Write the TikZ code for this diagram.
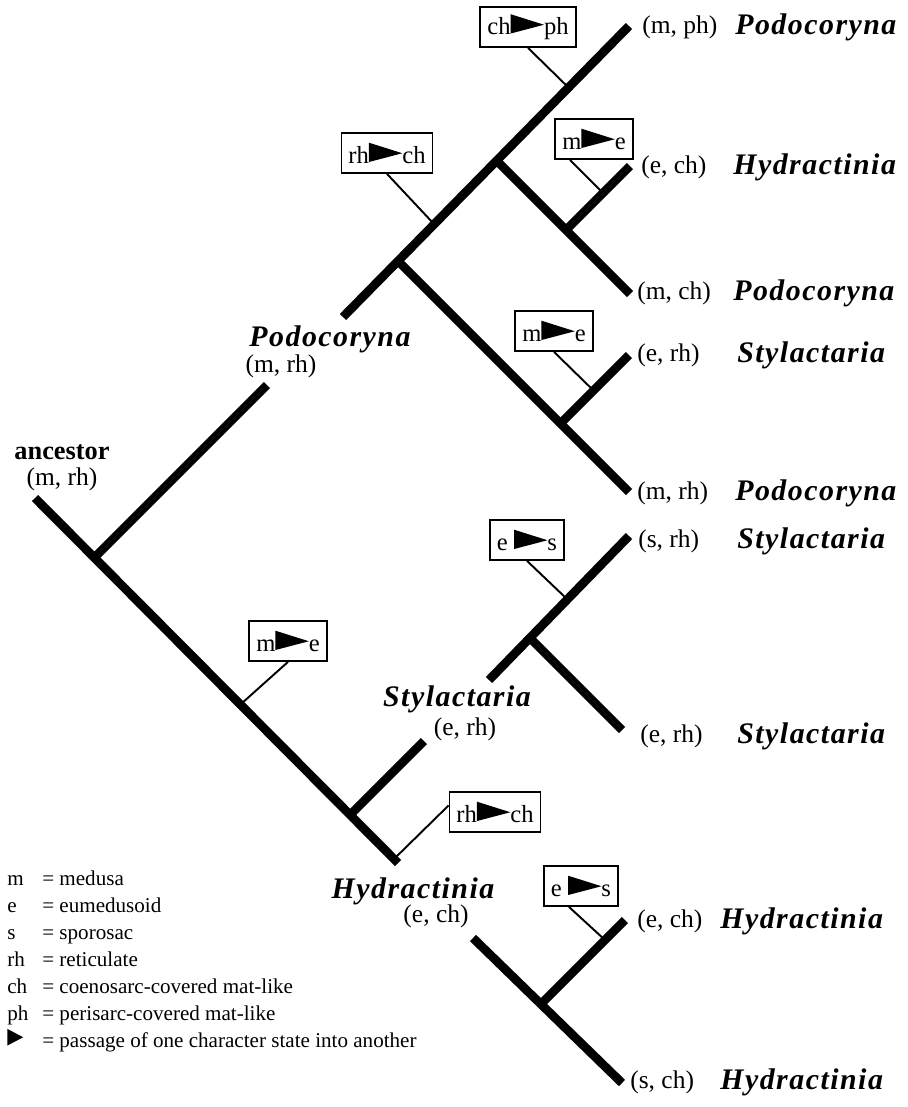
\documentclass[tikz,border=0pt]{standalone}
\usepackage{fontspec}
\setmainfont{Liberation Serif}
\newfontfamily\taxfont[LetterSpace=5]{Liberation Serif}
\usetikzlibrary{positioning}

% filled wedge for a change of character state
\newcommand{\pass}{\tikz[baseline=-0.6pt]\fill (0,0) -- (0,11pt) -- (19pt,5pt) -- cycle;}
\newcommand{\legpass}{\tikz[baseline=-1pt]\fill (0,0) -- (0,9.5pt) -- (9pt,4.75pt) -- cycle;}

\tikzset{
  branch/.style={line width=5pt},
  tick/.style={line width=1.1pt},
  changebox/.style={draw, fill=white, line width=1pt, inner xsep=4pt, inner ysep=0pt,
    minimum height=0.8cm, font=\fontsize{14}{16}\selectfont},
  state/.style={inner sep=0pt, text height=9.5pt, text depth=3pt, font=\fontsize{14.5}{16}\selectfont},
  taxon/.style={inner sep=0pt, text height=11pt, text depth=3.5pt,
    font=\fontsize{17}{19}\selectfont\taxfont\bfseries\itshape},
}

\begin{document}
\begin{tikzpicture}[x=0.02cm, y=-0.02cm]
            \useasboundingbox (0,0) rectangle (908,1107);

            % tree: tips and branching points
            \coordinate (anc) at (35,498);
            \coordinate (n0) at (94.5,557.5);
            \coordinate (pod) at (267,385);
            \coordinate (n5) at (351,814);
            \coordinate (sty) at (424,741);
            \coordinate (tend) at (398,863);
            \coordinate (us) at (343,317);
            \coordinate (n1) at (397.5,260.5);
            \coordinate (n3) at (497,161);
            \coordinate (n4) at (566,230);
            \coordinate (n2) at (560.5,423.5);
            \coordinate (t1) at (629,26);
            \coordinate (t2) at (630,166);
            \coordinate (t3) at (630,294);
            \coordinate (t4) at (629,355);
            \coordinate (t5) at (629,492);
            \coordinate (ss) at (489,680);
            \coordinate (n6) at (529.5,637.5);
            \coordinate (t6) at (629,536);
            \coordinate (t7) at (622,730);
            \coordinate (hs) at (473,938);
            \coordinate (n7) at (541.5,1003.5);
            \coordinate (t8) at (625,920);
            \coordinate (t9) at (622,1083);

            \draw[branch] (anc) -- (tend);
            \draw[branch] (n0) -- (pod);
            \draw[branch] (n5) -- (sty);
            \draw[branch] (us) -- (t1);
            \draw[branch] (n1) -- (t5);
            \draw[branch] (n3) -- (t3);
            \draw[branch] (n4) -- (t2);
            \draw[branch] (n2) -- (t4);
            \draw[branch] (ss) -- (t6);
            \draw[branch] (n6) -- (t7);
            \draw[branch] (hs) -- (t9);
            \draw[branch] (n7) -- (t8);

            % character state changes
            \node[changebox] (c1) at (528,27) {ch\pass ph};
            \node[changebox] (c2) at (387,153) {rh\pass ch};
            \node[changebox] (c3) at (594,139) {m\pass e};
            \node[changebox] (c4) at (554,331) {m\pass e};
            \node[changebox] (c5) at (288,641) {m\pass e};
            \node[changebox] (c6) at (495,812) {rh\pass ch};
            \node[changebox] (c7) at (527,540) {e \pass s};
            \node[changebox] (c8) at (581,886) {e \pass s};

            \coordinate (k1) at (569.5,88.5);
            \coordinate (k2) at (434,224);
            \coordinate (k3) at (603,193);
            \coordinate (k4) at (593.5,390.5);
            \coordinate (k5) at (241,704);
            \coordinate (k6) at (395,858);
            \coordinate (k7) at (567.5,599.5);
            \coordinate (k8) at (605,940);

            \draw[tick] (c1.south) -- (k1);
            \draw[tick] (c2.south) -- (k2);
            \draw[tick] (c3.-139) -- (k3);
            \draw[tick] (c4.south) -- (k4);
            \draw[tick] (c5.south) -- (k5);
            \draw[tick] (c6.172) -- (k6);
            \draw[tick] (c7.south) -- (k7);
            \draw[tick] (c8.-120) -- (k8);

            % terminal taxa
            \node[state, anchor=west] (s1) at (642,28) {(m, ph)};
            \node[state, anchor=west] (s2) at (641,168) {(e, ch)};
            \node[state, anchor=west] (s3) at (637,294) {(m, ch)};
            \node[state, anchor=west] (s4) at (637,356) {(e, rh)};
            \node[state, anchor=west] (s5) at (637,494) {(m, rh)};
            \node[state, anchor=west] (s6) at (638,542) {(s, rh)};
            \node[state, anchor=west] (s7) at (640,737) {(e, rh)};
            \node[state, anchor=west] (s8) at (637,922) {(e, ch)};
            \node[state, anchor=west] (s9) at (630,1083) {(s, ch)};

            \node[taxon, anchor=west] (x1) at (735,28) {Podocoryna};
            \node[taxon, anchor=west] (x2) at (733,168) {Hydractinia};
            \node[taxon, anchor=west] (x3) at (733,294) {Podocoryna};
            \node[taxon, anchor=west] (x4) at (737,356) {Stylactaria};
            \node[taxon, anchor=west] (x5) at (735,494) {Podocoryna};
            \node[taxon, anchor=west] (x6) at (737,542) {Stylactaria};
            \node[taxon, anchor=west] (x7) at (737,737) {Stylactaria};
            \node[taxon, anchor=west] (x8) at (720,922) {Hydractinia};
            \node[taxon, anchor=west] (x9) at (720,1083) {Hydractinia};

            % ancestral states
            \node[inner sep=0pt, font=\fontsize{15}{17}\selectfont\bfseries] (ancname) at (62,452) {ancestor};
            \node[state] (ancstate) at (62,480) {(m, rh)};
            \node[taxon] (podname) at (330,340) {Podocoryna};
            \node[state] (podstate) at (281,367) {(m, rh)};
            \node[taxon] (styname) at (457,700) {Stylactaria};
            \node[state] (stystate) at (465,730) {(e, rh)};
            \node[taxon] (hydname) at (413,892) {Hydractinia};
            \node[state] (hydstate) at (436,917) {(e, ch)};

            % legend
            \node[anchor=base west, inner sep=0pt, font=\fontsize{12}{15.4}\selectfont] (legend) at (7,885)
              {\begin{tabular}[t]{@{}p{19.9pt}@{}l@{}}
                m & = medusa\\
                e & = eumedusoid\\
                s & = sporosac\\
                rh & = reticulate\\
                ch & = coenosarc-covered mat-like\\
                ph & = perisarc-covered mat-like\\
                \legpass & = passage of one character state into another
              \end{tabular}};
        \end{tikzpicture}
\end{document}
